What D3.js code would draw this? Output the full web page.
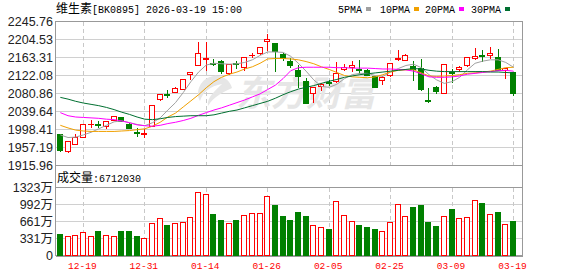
<!DOCTYPE html>
<html>
<head>
<meta charset="utf-8">
<script src="https://cdn.jsdelivr.net/npm/d3@7"></script>
<style>
  body { margin: 0; background: #fff; }
  text { font-family: "Liberation Sans", "Noto Sans CJK SC", sans-serif; }
</style>
</head>
<body>
<svg width="578" height="276"></svg>
<script>
// trading days shown (MM-DD)
const dates = ["12-16","12-17","12-18","12-19","12-22","12-23","12-24","12-25","12-26","12-29","12-30","12-31",
  "01-05","01-06","01-07","01-08","01-09","01-12","01-13","01-14","01-15","01-16","01-19","01-20","01-21","01-22","01-23",
  "01-26","01-27","01-28","01-29","01-30","02-02","02-03","02-04","02-05","02-06","02-09","02-10","02-11","02-12","02-13",
  "02-24","02-25","02-26","02-27","03-02","03-03","03-04","03-05","03-06","03-09","03-10","03-11","03-12","03-13",
  "03-16","03-17","03-18","03-19"];

const open  = [1986,1949,1963,1981,2009,2010,2005,2019,2026,2011,1990.5,1987,2005,2066,2078.5,2083,2091,2123.5,2146,2158.5,
  2149,2155,2126,2150,2141,2167,2173,2199,2194.6,2170,2155,2133.5,2107.6,2080,2097,2106,2107.6,2136.6,2141.2,2136.6,
  2133.5,2120,2110.6,2121,2158,2156.4,2142.7,2138,2065,2094,2081.6,2130,2136.6,2144.2,2161,2168.6,2168.6,2162.5,2133.5,2129];
const high  = [1988,1973,1988,2011,2020,2019,2017,2030,2028,2014,2002,1999,2053,2078,2088,2095,2114,2130,2198,2199,
  2161,2158,2148,2156,2163,2173,2188.5,2217.5,2196,2173,2162,2146,2117,2096,2106,2112,2152,2147.3,2156.4,2158,
  2138,2121,2120,2150.3,2181,2171.7,2156.4,2159.5,2094,2098.4,2149,2136.6,2144.2,2162.5,2184,2181,2187,2182.4,2138,2131];
const low   = [1947,1944,1963,1979,2002,2001,1999,2017,2015,1999,1981,1979,2004,2063,2071,2081.5,2089,2112,2144,2132,
  2144,2126,2124,2138,2133.5,2162.5,2168.6,2179,2129,2156,2140,2094,2058.7,2060,2086,2098,2106,2132,2130.5,2126,
  2120,2094,2100,2118,2155,2155,2109,2087.7,2060,2080,2080,2104.5,2129,2141.2,2158,2152,2159.5,2133.5,2113.7,2075.5];
const close = [1950,1970,1979,2009,2010.5,2008.5,2016,2028,2017,2001,1989.5,1988.5,2052.6,2078,2077,2092,2112,2129.7,2172,2160.3,
  2147.3,2130.5,2147.3,2147.5,2162.6,2168.6,2185.4,2204,2176,2161,2145,2120,2058.7,2095.4,2101.5,2104.5,2126,2141.2,2145.7,2133.5,
  2121.3,2095.4,2116.7,2150,2161,2168.6,2136.6,2090.8,2063.3,2086.2,2147.3,2126,2139.6,2162.5,2165.6,2166,2171.7,2133.5,2138,2081.6];

// volume, 万
const volume = [428,383,402,460,383,486,402,383,467,467,389,350,642,720,603,623,661,752,1239,1187,
  798,700,636,700,791,830,830,1161,973,759,681,837,759,597,558,506,1051,791,674,603,
  564,506,480,655,1005,772,934,973,661,577,772,914,733,752,1083,1025,811,856,616,671];
const lastVolume = "6712030";

const ma5  = [1986,1980,1981,1986,1992,2000,2008,2016,2018,2014,2010,2007,2014,2025,2043,2060,2083,2108,2130,2146,
  2150,2149,2148,2149,2152,2158,2168,2176,2176,2175,2166,2150,2132,2112,2097,2095,2102,2115,2124,2127,
  2127,2122,2120,2130,2138,2145,2148,2140,2124,2112,2104,2108,2118,2135,2150,2155,2158,2158,2152,2141];
const ma10 = [2008,2002,1997,1995,1994,1994,1994,1994,1995,1996,1998,2000,2006,2015,2027,2036,2050,2064,2078,2094,
  2108,2118,2125,2130,2137,2142,2150,2160,2161,2161,2160,2158,2154,2149,2142,2136,2129,2122,2119,2118,
  2117,2119,2124,2130,2134,2135,2135,2128,2121,2120,2121,2122,2124,2127,2128,2130,2132,2136,2140,2141];
const ma20 = [2037,2030,2027,2026,2025,2024,2022,2021,2018,2014,2009,2007,2006,2008,2012,2015,2019,2024,2031,2037,
  2043,2048,2054,2060,2066,2073,2080,2090,2100,2115,2133,2140,2141,2141,2141,2141,2140,2140,2139,2139,
  2139,2138,2137,2137,2136,2135,2132,2126,2119,2118,2118,2119,2121,2125,2127,2129,2131,2133,2134,2132];
const ma30 = [2072,2068,2063,2059,2056,2053,2049,2044,2038,2033,2027,2022,2021,2023,2026,2028,2029,2030,2030,2030,
  2032,2036,2040,2043,2048,2053,2058,2063,2070,2078,2085,2091,2095,2099,2104,2109,2113,2118,2121,2124,
  2126,2128,2130,2132,2134,2136,2138,2137,2134,2132,2131,2131,2131,2131,2131,2131,2130,2130,2129,2128];

const priceTicks = [2245.76,2204.53,2163.31,2122.08,2080.86,2039.64,1998.41,1957.19,1915.96];
const volTicks = [0,331,661,992,1323];
const volTickLabels = ["0","331万","661万","992万","1323万"];
const labelDates = ["12-19","12-31","01-14","01-26","02-05","02-25","03-09","03-19"];

const maSeries = [
  {name: "5PMA",  values: ma5,  color: "#a0a0a0"},
  {name: "10PMA", values: ma10, color: "#f0a000"},
  {name: "20PMA", values: ma20, color: "#ff00ff"},
  {name: "30PMA", values: ma30, color: "#006f30"}
];

const RED = "#ff0000", GREEN = "#008000", FRAME = "#999", GRID = "#d0d0d0";
const left = 55.5, right = 522.5;
const pTop = 21.5, pBottom = 165.5, vTop = 187.5, vBottom = 255.5;

const svg = d3.select("svg");

const x = d3.scaleBand().domain(dates).range([56.5, 56.5 + 7.68 * dates.length]);
const cx = d => x(d) + x.bandwidth() / 2;
const y = d3.scaleLinear().domain([1915.96, 2245.76]).range([pBottom, pTop]);
const yv = d3.scaleLinear().domain([0, 1323]).range([vBottom, vTop]);

const data = dates.map((d, i) => ({
  date: d, o: open[i], h: high[i], l: low[i], c: close[i], v: volume[i],
  up: close[i] >= open[i]
}));

// gridlines
const grid = svg.append("g").attr("shape-rendering", "crispEdges");
grid.selectAll(".hp").data(priceTicks.slice(1, -1)).enter().append("line")
  .attr("x1", left).attr("x2", right)
  .attr("y1", d => Math.round(y(d) - 0.5) + 0.5).attr("y2", d => Math.round(y(d) - 0.5) + 0.5)
  .attr("stroke", GRID);
grid.selectAll(".hv").data(volTicks.slice(1, -1)).enter().append("line")
  .attr("x1", left).attr("x2", right)
  .attr("y1", d => Math.round(yv(d) - 0.5) + 0.5).attr("y2", d => Math.round(yv(d) - 0.5) + 0.5)
  .attr("stroke", GRID);
[[pTop, pBottom], [vTop, vBottom]].forEach(([a, b]) => {
  grid.selectAll(null).data(labelDates).enter().append("line")
    .attr("x1", d => Math.round(cx(d) - 0.5) + 0.5).attr("x2", d => Math.round(cx(d) - 0.5) + 0.5)
    .attr("y1", a).attr("y2", b)
    .attr("stroke", "#c8c8c8").attr("stroke-dasharray", "4,3");
});

// watermark
const wm = svg.append("g").attr("fill", "#e6e6e6");
wm.append("path")
  .attr("d", "M214,76 C200,78 195,92 200,101 C203,92 210,86 222,84 C216,90 206,98 208,106 C214,96 224,92 232,88 C230,80 222,75 214,76 Z");
wm.append("text").attr("x", 236).attr("y", 106)
  .attr("font-size", 35).attr("font-weight", "bold").attr("font-style", "italic")
  .style("font-family", "'Noto Sans CJK SC'")
  .text("东方财富");

// frame
const frame = svg.append("g").attr("stroke", FRAME).attr("fill", "none").attr("shape-rendering", "crispEdges");
frame.append("rect").attr("x", left).attr("y", pTop).attr("width", right - left).attr("height", vBottom - pTop);
frame.append("line").attr("x1", left).attr("x2", right).attr("y1", pBottom).attr("y2", pBottom);
frame.append("line").attr("x1", left).attr("x2", right).attr("y1", vTop).attr("y2", vTop);
frame.append("line").attr("x1", left).attr("x2", right).attr("y1", vBottom + 0.5).attr("y2", vBottom + 0.5).attr("stroke-width", 2);

// candles
const candles = svg.append("g").attr("shape-rendering", "crispEdges")
  .selectAll("g").data(data).enter().append("g");
candles.append("line")
  .attr("x1", d => Math.round(cx(d.date) - 0.5) + 0.5).attr("x2", d => Math.round(cx(d.date) - 0.5) + 0.5)
  .attr("y1", d => y(d.h)).attr("y2", d => y(d.l))
  .attr("stroke", d => d.up ? RED : GREEN);
candles.append("rect")
  .attr("x", d => Math.round(cx(d.date) - 0.5) - 2.5).attr("width", 5)
  .attr("y", d => y(Math.max(d.o, d.c)))
  .attr("height", d => Math.max(0.5, Math.abs(y(d.o) - y(d.c))))
  .attr("fill", d => d.up ? "#fff" : GREEN)
  .attr("stroke", d => d.up ? RED : GREEN);

// moving averages
const line = d3.line().x((v, i) => cx(dates[i])).y(v => y(v));
svg.append("g").selectAll("path").data(maSeries).enter().append("path")
  .attr("d", s => line(s.values))
  .attr("fill", "none").attr("stroke", s => s.color).attr("stroke-width", 1);

// volume bars
svg.append("g").attr("shape-rendering", "crispEdges")
  .selectAll("rect").data(data).enter().append("rect")
  .attr("x", d => Math.round(cx(d.date) - 0.5) - 2.5).attr("width", 5)
  .attr("y", d => Math.round(yv(d.v)) + 0.5)
  .attr("height", d => vBottom - 0.5 - Math.round(yv(d.v)))
  .attr("fill", d => d.up ? "#fff" : GREEN)
  .attr("stroke", d => d.up ? RED : GREEN);

// price axis labels
svg.append("g").selectAll("text").data(priceTicks).enter().append("text")
  .attr("x", 53).attr("y", d => y(d) + 4.5)
  .attr("text-anchor", "end").attr("font-size", 12.5).attr("fill", "#222")
  .text(d => d.toFixed(2));

// volume axis labels
svg.append("g").selectAll("text").data(volTicks).enter().append("text")
  .attr("x", 53).attr("y", d => yv(d) + 4.5)
  .attr("text-anchor", "end").attr("font-size", 12.5).attr("fill", "#222")
  .text((d, i) => volTickLabels[i]);

// date labels
svg.append("g").selectAll("text").data(labelDates).enter().append("text")
  .attr("x", d => cx(d) - 1).attr("y", 269)
  .attr("text-anchor", "middle").attr("font-size", 9.5).attr("fill", RED)
  .style("font-family", "'Liberation Mono', monospace")
  .text(d => d);

// header
const head = svg.append("text").attr("x", 56).attr("y", 13).attr("fill", "#000");
head.append("tspan").attr("font-size", 12).style("font-family", "'Noto Sans CJK SC'").text("维生素");
head.append("tspan").attr("font-size", 10).style("font-family", "'Liberation Mono', monospace").text("[BK0895] 2026-03-19 15:00");

// legend
const legX = [338, 380, 425, 471];
const leg = svg.append("g").selectAll("g").data(maSeries).enter().append("g")
  .attr("transform", (d, i) => `translate(${legX[i]},0)`);
leg.append("text").attr("y", 13).attr("font-size", 10).attr("fill", "#000")
  .style("font-family", "'Liberation Mono', monospace").text(d => d.name);
leg.append("rect").attr("x", d => d.name.length * 6 + 4).attr("y", 7).attr("width", 5).attr("height", 4)
  .attr("fill", d => d.color);

// volume caption
const vc = svg.append("text").attr("x", 57).attr("y", 182).attr("fill", "#000");
vc.append("tspan").attr("font-size", 12).style("font-family", "'Noto Sans CJK SC'").text("成交量");
vc.append("tspan").attr("font-size", 10).style("font-family", "'Liberation Mono', monospace").text(":" + lastVolume);
</script>
</body>
</html>
